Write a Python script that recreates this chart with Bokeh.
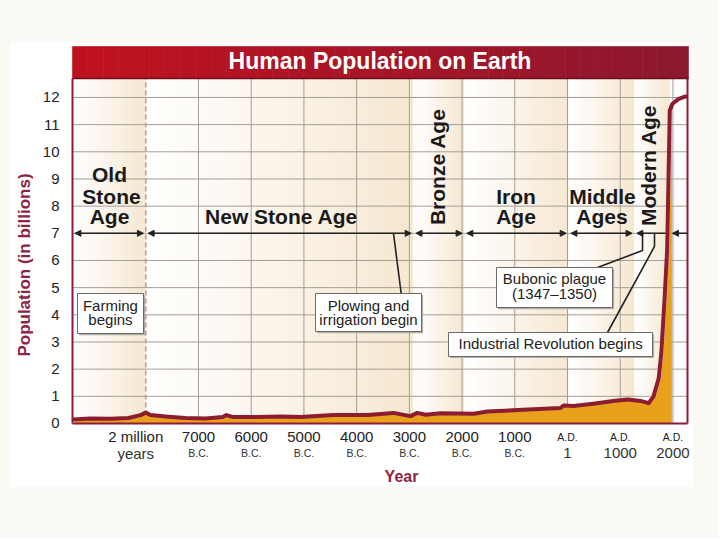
from bokeh.plotting import figure
from bokeh.models import Range1d, FixedTicker, Arrow, NormalHead, ColumnDataSource, Spacer
from bokeh.layouts import column, row
from bokeh.core.properties import value
from bokeh.embed import file_html
from bokeh.resources import INLINE

# ---------------- data ----------------
# x position: index scale (thousands of years, A.D. 1 = 0); "2 million years" sits at -8
tick_pos = [-8, -7, -6, -5, -4, -3, -2, -1, 0, 1, 2]
tick_top = ["2 million", "7000", "6000", "5000", "4000", "3000", "2000", "1000", "A.D.", "A.D.", "A.D."]
tick_bottom = ["years", "B.C.", "B.C.", "B.C.", "B.C.", "B.C.", "B.C.", "B.C.", "1", "1000", "2000"]
y_ticks = list(range(0, 13))

pop_x = [-9.39, -9.05, -8.67, -8.33, -8.10, -8.00, -7.91, -7.63, -7.25, -6.87, -6.54, -6.47,
         -6.36, -5.92, -5.44, -5.07, -4.44, -3.79, -3.30, -2.98, -2.85, -2.69, -2.41, -1.78,
         -1.52, -0.645, -0.13, -0.076, 0.114, 0.49, 0.87, 1.14, 1.385, 1.54, 1.63, 1.73,
         1.78, 1.84, 1.89, 1.94, 1.99, 2.11, 2.24, 2.276]
pop_y = [0.15, 0.18, 0.17, 0.20, 0.31, 0.40, 0.31, 0.26, 0.20, 0.18, 0.24, 0.31,
         0.24, 0.24, 0.26, 0.24, 0.31, 0.31, 0.39, 0.27, 0.39, 0.32, 0.38, 0.36,
         0.44, 0.52, 0.57, 0.66, 0.64, 0.73, 0.83, 0.88, 0.83, 0.75, 0.99, 1.66,
         2.61, 4.53, 6.37, 11.52, 11.77, 11.95, 12.04, 12.04]

era_edges = [-9.39, -8.0, -2.92, -1.954, 0.02, 1.27, 1.935, 2.276]

era_words = ["Old", "Stone", "Age", "New Stone Age", "Iron", "Age", "Middle", "Ages"]
era_word_x = [-8.688, -8.650, -8.688, -5.425, -0.977, -0.977, 0.664, 0.655]
era_word_y = [9.17, 8.37, 7.62, 7.62, 8.37, 7.62, 8.37, 7.62]
vert_words = ["Bronze Age", "Modern Age"]
vert_x = [-2.457, 1.527]
vert_y = [9.45, 9.50]

box_left = [-9.295, -4.780, -1.347, -2.257]
box_right = [-8.043, -2.770, 0.854, 1.612]
box_top = [4.785, 4.785, 5.742, 3.349]
box_bottom = [3.312, 3.386, 4.269, 2.466]
box_text = ["Farming", "begins", "Plowing and", "irrigation begin", "Bubonic plague", "(1347\u20131350)",
            "Industrial Revolution begins"]
box_text_x = [-8.67, -8.67, -3.775, -3.775, -0.247, -0.247, -0.32]
box_text_y = [4.325, 3.83, 4.325, 3.83, 5.355, 4.80, 2.95]

leader_xs = [[-3.301, -3.155], [1.423, 1.423, 0.569], [1.650, 1.650, 0.759]]
leader_ys = [[7.0, 4.785], [7.0, 6.367, 5.742], [7.0, 6.515, 3.349]]

Y_TOP = 12.70
X_LEFT, X_RIGHT = -9.39, 2.276

# ---------------- figure ----------------
p = figure(width=684, height=445, x_range=Range1d(-9.428, 2.390), y_range=Range1d(-2.356, 14.023),
           output_backend="svg", toolbar_location=None, x_axis_location=None,
           min_border_left=61, min_border_right=0, min_border_top=0, min_border_bottom=0)
p.outline_line_color = None
p.background_fill_color = "white"
p.border_fill_color = "white"
p.xgrid.visible = False
p.ygrid.visible = False

ax = p.yaxis[0]
ax.ticker = FixedTicker(ticks=y_ticks)
ax.axis_line_color = None
ax.major_tick_line_color = None
ax.minor_tick_line_color = None
ax.major_label_standoff = 5
ax.major_label_text_font = "Liberation Sans"
ax.major_label_text_font_size = "15px"
ax.major_label_text_color = "#222222"
ax.axis_label = "Population (in billions)"
ax.axis_label_text_font = "Liberation Sans"
ax.axis_label_text_font_style = "bold"
ax.axis_label_text_font_size = "17px"
ax.axis_label_text_color = "#8e2343"
ax.axis_label_standoff = 6


def mix(c1, c2, t):
    return "#%02x%02x%02x" % tuple(int(round(a + (b - a) * t)) for a, b in zip(c1, c2))


# era shading bands (white -> cream gradient)
cream = (246, 231, 208)
white = (255, 255, 255)
bl, br, bc = [], [], []
n = 24
for i in range(len(era_edges) - 2):
    L, R = era_edges[i], era_edges[i + 1]
    for j in range(n):
        bl.append(L + (R - L) * j / n)
        br.append(L + (R - L) * (j + 1) / n)
        bc.append(mix(white, cream, ((j + 0.5) / n) ** 1.1))
p.quad(left=bl, right=br, bottom=0, top=Y_TOP, fill_color=bc, line_color=bc, line_width=0.6)

# grid lines
grid_col = "#a39e96"
p.segment(x0=X_LEFT, x1=X_RIGHT, y0=y_ticks[1:], y1=y_ticks[1:], line_color=grid_col, line_width=1)
p.segment(x0=tick_pos[1:], x1=tick_pos[1:], y0=0, y1=Y_TOP, line_color=grid_col, line_width=1)
p.segment(x0=tick_pos[0], x1=tick_pos[0], y0=0, y1=Y_TOP, line_color="#c8909c", line_width=1.5,
          line_dash="5 3")

# population fill + line
nf = pop_x.index(1.94) + 1
p.varea(x=[v + 0.04 for v in pop_x[:nf]], y1=0, y2=pop_y[:nf], fill_color="#e9a11c")
p.line(pop_x, pop_y, line_color="#8c1c30", line_width=4, line_join="round")

# plot borders
border = "#8c1c38"
p.segment(x0=[X_LEFT, X_RIGHT, X_LEFT], x1=[X_LEFT, X_RIGHT, X_RIGHT], y0=[0, 0, 0],
          y1=[Y_TOP, Y_TOP, 0], line_color=border, line_width=2)

# title banner
ban_l, ban_r, ban_c = [], [], []
nb = 40
x0b, x1b = X_LEFT, 2.295
for j in range(nb):
    ban_l.append(x0b + (x1b - x0b) * j / nb)
    ban_r.append(x0b + (x1b - x0b) * (j + 1) / nb)
    ban_c.append(mix((192, 18, 30), (140, 24, 48), (j + 0.5) / nb))
p.quad(left=ban_l, right=ban_r, bottom=Y_TOP, top=13.875, fill_color=ban_c, line_color=ban_c,
       line_width=0.6)
p.segment(x0=x0b, x1=x1b, y0=Y_TOP, y1=Y_TOP, line_color="#6e0f1e", line_width=1.5)
p.text(x=[-3.557], y=[13.342], text=["Human Population on Earth"], text_font=value("Liberation Sans"),
       text_font_style="bold", text_font_size="23px", text_color="white", text_align="center",
       text_baseline="middle")

# era arrows
g = 0.045
ar = ColumnDataSource(dict(x0=[era_edges[i] + g for i in range(5)],
                           x1=[era_edges[i + 1] - g for i in range(5)], y=[7.0] * 5))
p.add_layout(Arrow(start=NormalHead(size=6, fill_color="#222", line_color="#222"),
                   end=NormalHead(size=6, fill_color="#222", line_color="#222"),
                   x_start="x0", x_end="x1", y_start="y", y_end="y", source=ar,
                   line_color="#222", line_width=1.5))
ar2 = ColumnDataSource(dict(x0=[era_edges[5] + g, 1.99], x1=[1.86, X_RIGHT], y=[7.0, 7.0]))
p.add_layout(Arrow(start=NormalHead(size=6, fill_color="#222", line_color="#222"), end=None,
                   x_start="x0", x_end="x1", y_start="y", y_end="y", source=ar2,
                   line_color="#222", line_width=1.5))

# era names
p.text(x=era_word_x, y=era_word_y, text=era_words, text_font=value("Liberation Sans"),
       text_font_style="bold", text_font_size="21px", text_color="#1a1a1a", text_align="center",
       text_baseline="middle")
p.text(x=vert_x, y=vert_y, text=vert_words, angle=1.5708, text_font=value("Liberation Sans"),
       text_font_style="bold", text_font_size="21px", text_color="#1a1a1a", text_align="center",
       text_baseline="middle")

# leader lines and event boxes
p.multi_line(xs=leader_xs, ys=leader_ys, line_color="#222", line_width=1.6)
p.quad(left=[v + 0.03 for v in box_left], right=[v + 0.03 for v in box_right],
       top=[v - 0.06 for v in box_top], bottom=[v - 0.06 for v in box_bottom],
       fill_color="#b0aca6", line_color=None)
p.quad(left=box_left, right=box_right, top=box_top, bottom=box_bottom, fill_color="white",
       line_color="#6b6b6b", line_width=1)
p.text(x=box_text_x, y=box_text_y, text=box_text, text_font=value("Liberation Sans"),
       text_font_size="15px", text_color="#222222", text_align="center", text_baseline="middle")

# x tick labels (two rows)
big, small = "15px", "10.5px"
top_sizes = [small if t.startswith("A.D") else big for t in tick_top]
bot_sizes = [small if t.startswith("B.C") else big for t in tick_bottom]
offs = [-10 if i == 0 else 0 for i in range(len(tick_pos))]
lab = ColumnDataSource(dict(x=tick_pos, t1=tick_top, t2=tick_bottom, s1=top_sizes, s2=bot_sizes,
                            off=offs))
p.text(x="x", y=-0.49, text="t1", text_font_size="s1", x_offset="off", source=lab,
       text_font=value("Liberation Sans"), text_color="#222222", text_align="center",
       text_baseline="middle")
p.text(x="x", y=-1.10, text="t2", text_font_size="s2", x_offset="off", source=lab,
       text_font=value("Liberation Sans"), text_color="#333333", text_align="center",
       text_baseline="middle")
p.text(x=[-3.149], y=[-1.947], text=["Year"], text_font=value("Liberation Sans"), text_font_style="bold",
       text_font_size="16px", text_color="#8e2343", text_align="center", text_baseline="middle")

page = column(Spacer(width=718, height=42),
              row(Spacer(width=9, height=445), p, Spacer(width=25, height=445)),
              Spacer(width=718, height=51),
              styles={"background-color": "#fbf9f3"})

open("out.html", "w").write(file_html(page, INLINE))
